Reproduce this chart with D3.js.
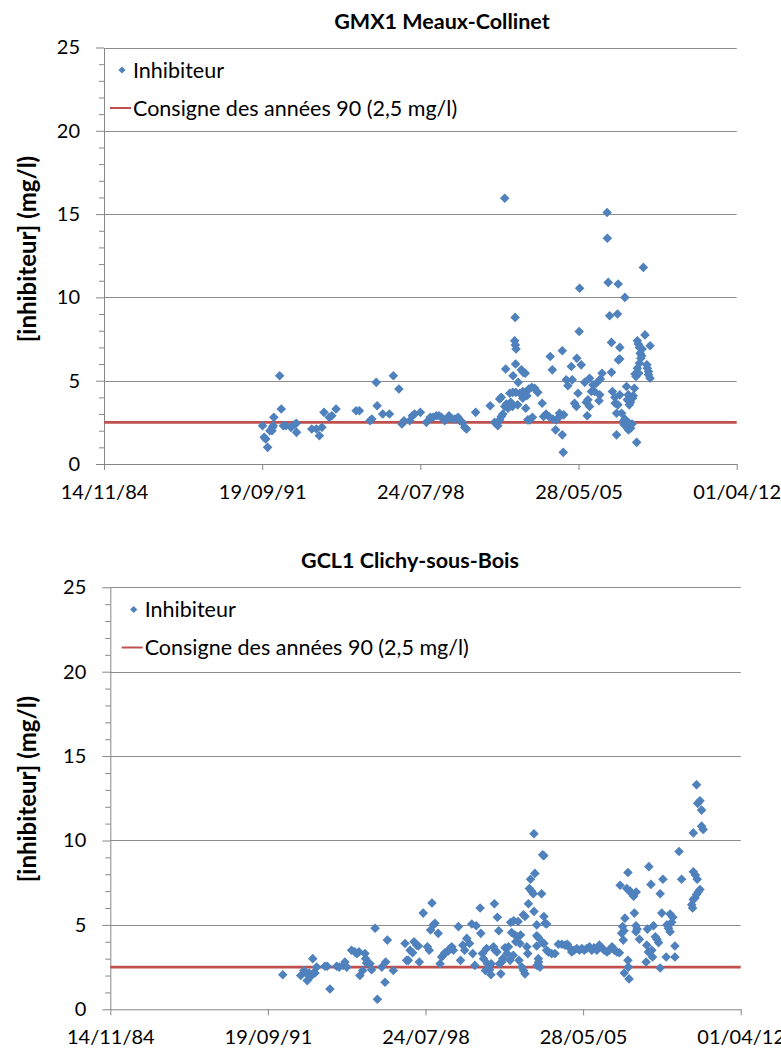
<!DOCTYPE html>
<html>
<head>
<meta charset="utf-8">
<script src="https://cdn.jsdelivr.net/npm/d3@7"></script>
<style>
  body { margin: 0; background: #fff; }
  text { font-family: Lato, "Open Sans", sans-serif; fill: #000; }
</style>
</head>
<body>
<svg id="chart" width="781" height="1048"></svg>
<script>
// ---- data -------------------------------------------------------------
const xTickLabels = ["14/11/84", "19/09/91", "24/07/98", "28/05/05", "01/04/12"];
const yTicks = [0, 5, 10, 15, 20, 25];
const consigne = 2.5;
const legendLabels = ["Inhibiteur", "Consigne des années 90 (2,5 mg/l)"];
const yLabel = "[inhibiteur] (mg/l)";

const gmxTitle = "GMX1 Meaux-Collinet";
const gmxYears = [
  1991.73,1991.80,1991.87,1991.95,1992.05,1992.14,1992.16,1992.22,1992.19,1992.47,
  1992.54,1992.63,1992.74,1992.96,1993.10,1993.19,1993.20,1993.86,1994.06,1994.19,
  1994.30,1994.39,1994.62,1994.73,1994.91,1995.78,1995.92,1996.38,1996.46,1996.65,
  1996.69,1996.93,1997.22,1997.39,1997.63,1997.76,1997.85,1998.10,1998.21,1998.31,
  1998.56,1998.82,1998.99,1999.11,1999.25,1999.37,1999.47,1999.61,1999.69,1999.80,
  1999.90,2000.05,2000.19,2000.27,2000.38,2000.48,2000.56,2000.95,2001.58,2001.77,
  2001.84,2001.91,2001.99,2002.06,2002.13,2001.99,2002.06,2002.21,2002.28,2002.35,
  2002.25,2002.21,2002.66,2002.64,2002.67,2002.70,2002.68,2002.57,2002.79,2002.43,
  2002.56,2002.69,2002.86,2002.99,2003.12,2003.25,2003.38,2003.51,2002.93,2003.01,
  2003.10,2002.99,2003.17,2003.12,2003.21,2003.29,2003.41,2002.77,2002.47,2003.83,
  2003.89,2004.00,2004.12,2004.18,2004.27,2004.29,2004.41,2004.51,2004.58,2004.70,
  2004.70,2004.74,2004.76,2004.87,2004.94,2005.09,2005.13,2005.23,2005.31,2005.33,
  2005.38,2005.45,2005.43,2005.52,2005.67,2005.74,2005.78,2005.88,2005.88,2005.96,
  2006.03,2006.17,2006.29,2006.35,2006.32,2006.42,2006.64,2006.65,2006.69,2006.75,
  2006.83,2006.87,2006.83,2006.99,2007.05,2007.05,2007.12,2007.09,2007.19,2007.13,
  2007.19,2007.19,2007.34,2007.41,2007.38,2007.48,2007.52,2007.56,2007.60,2007.65,
  2007.74,2007.60,2007.66,2007.82,2007.85,2007.92,2007.89,2007.95,2007.99,2008.04,
  2008.07,2008.10,2008.04,2007.95,2008.21,2008.28,2008.36,2008.38,2008.43,2008.43,
  2008.50,2008.50,2008.14,2008.16,2008.01,2006.98,2007.11,2007.27,2007.41,2007.56,
  2007.72,2007.77,2004.44,2005.81,2006.10,2002.42,2002.54,2003.64
];
const gmxValues = [
  2.3,1.6,1.5,1.0,2.0,2.0,2.2,2.8,2.3,5.3,
  3.3,2.3,2.3,2.2,2.35,2.45,1.9,2.1,2.1,1.7,
  2.2,3.1,2.8,2.9,3.3,3.2,3.2,2.6,2.7,4.9,
  3.5,3.0,3.0,5.3,4.5,2.4,2.6,2.6,2.9,3.0,
  3.1,2.5,2.8,2.8,2.9,2.9,2.8,2.6,2.7,2.9,
  2.7,2.7,2.8,2.6,2.5,2.2,2.1,3.1,3.5,2.5,
  2.45,2.3,2.65,2.85,3.0,3.9,4.0,3.45,3.6,3.35,
  5.7,15.95,8.8,7.4,7.15,6.9,6.0,5.3,4.9,4.25,
  4.3,4.3,4.25,4.35,4.3,4.5,4.6,4.55,5.65,5.5,
  5.45,3.95,4.1,3.35,2.65,2.65,2.8,3.55,3.7,3.65,
  2.85,3.0,2.85,6.45,5.65,2.7,2.05,2.75,3.05,6.8,
  1.75,0.7,2.95,5.05,4.7,5.85,5.05,3.65,3.45,6.35,
  4.25,10.55,7.95,5.95,4.9,3.7,2.9,5.15,3.45,4.35,
  4.75,4.85,3.8,5.1,4.15,5.45,15.1,13.55,10.9,8.9,
  7.3,4.35,5.5,3.65,1.75,3.05,10.8,9.0,7.0,6.25,
  6.3,4.15,2.55,10.0,2.35,4.65,3.85,4.15,3.55,3.7,
  3.95,2.45,2.15,4.55,5.4,1.3,5.25,7.4,7.2,7.0,
  6.65,6.35,6.05,5.75,11.8,7.75,5.95,5.75,5.55,5.35,
  5.15,7.1,6.5,6.9,5.45,4.0,3.55,3.05,2.7,2.05,
  2.4,4.1,2.65,3.85,4.35,3.45,3.45,4.3
];

const gclTitle = "GCL1 Clichy-sous-Bois";
const gclYears = [
  1992.36,1993.14,1993.28,1993.37,1993.42,1993.51,1993.57,1993.66,1993.69,1993.76,
  1993.83,1994.19,1994.29,1994.41,1994.70,1994.81,1994.99,1995.06,1995.14,1995.35,
  1995.49,1995.58,1995.67,1995.71,1995.83,1995.93,1995.96,1996.00,1996.15,1996.22,
  1996.37,1996.47,1996.66,1996.80,1996.83,1996.90,1997.16,1997.67,1997.74,1997.81,
  1997.89,1998.00,1998.06,1998.18,1998.25,1998.29,1998.46,1998.64,1998.72,1998.78,
  1998.84,1998.90,1998.97,1999.11,1999.19,1999.26,1999.40,1999.55,1999.70,1999.77,
  1999.99,2000.18,2000.35,2000.47,2000.57,2000.61,2000.76,2000.93,2000.96,2001.08,
  2001.21,2001.25,2001.34,2001.40,2001.41,2001.51,2001.58,2001.66,2001.55,2001.68,
  2001.74,2001.77,2001.83,2001.87,2001.91,2002.01,2002.16,2002.23,2002.26,2002.39,
  2002.30,2002.37,2002.44,2002.55,2002.69,2002.48,2002.58,2002.66,2002.81,2002.88,
  2002.74,2002.82,2002.88,2002.96,2003.03,2003.07,2003.17,2003.24,2003.12,2003.31,
  2003.27,2003.27,2003.39,2003.46,2003.39,2003.46,2003.39,2003.40,2003.47,2003.53,
  2003.60,2003.65,2003.70,2003.70,2003.75,2003.82,2003.65,2003.70,2003.82,2003.89,
  2004.04,2004.18,2004.33,2004.48,2004.62,2004.72,2004.81,2004.91,2005.01,2005.13,
  2005.24,2005.35,2005.45,2005.56,2005.68,2005.78,2005.88,2006.00,2006.11,2006.22,
  2006.32,2006.44,2006.54,2006.66,2006.76,2006.87,2006.98,2007.01,2007.08,2007.12,
  2007.18,2007.22,2007.15,2007.30,2007.35,2007.45,2007.52,2007.60,2007.71,2007.35,
  2007.37,2007.19,2007.40,2007.63,2007.70,2007.75,2007.70,2007.85,2008.20,2008.26,
  2008.35,2008.46,2008.17,2008.24,2008.14,2008.39,2008.42,2008.54,2008.61,2008.68,
  2008.75,2008.87,2008.75,2008.82,2009.01,2009.04,2009.11,2009.18,2009.18,2009.30,
  2009.25,2009.39,2009.39,2009.57,2009.68,2010.19,2010.12,2010.16,2010.19,2010.26,
  2010.33,2010.40,2010.48,2010.19,2010.28,2010.36,2010.33,2010.38,2010.48,2010.55,
  2010.55,2010.62,
  1999.33,1999.62,2000.08,2000.26,2000.70,2001.03,2001.16,2002.10,2002.62,2003.00
];
const gclValues = [
  2.05,2.0,2.3,2.15,1.7,2.15,1.95,3.0,2.15,2.15,
  2.5,2.55,2.55,1.2,2.55,2.5,2.6,2.8,2.5,3.5,
  3.4,3.3,3.4,2.0,2.3,3.3,3.0,2.75,2.7,2.35,
  4.8,0.6,2.5,1.6,2.8,4.1,2.3,3.9,2.9,2.9,
  3.5,3.35,4.0,3.8,3.75,2.8,5.7,3.7,3.5,4.7,
  6.3,5.0,5.1,4.5,2.7,3.1,3.35,3.45,3.7,3.5,
  4.9,3.8,4.2,3.9,5.05,3.3,4.95,6.0,4.5,3.0,
  3.6,2.7,2.35,2.05,2.7,3.7,3.5,3.4,6.25,5.45,
  4.65,2.7,2.1,2.8,3.0,3.65,3.7,2.9,5.15,5.25,
  4.55,3.2,4.4,4.3,4.4,4.0,5.2,3.9,5.6,5.5,
  2.5,2.3,2.1,3.7,6.25,7.15,7.0,6.85,7.7,8.05,
  10.4,5.8,5.0,3.0,4.35,4.25,3.75,2.6,2.8,2.5,
  6.85,9.15,9.1,5.5,5.1,5.05,3.95,3.9,3.5,3.4,
  3.3,3.3,3.85,3.85,3.8,3.85,3.65,3.4,3.5,3.6,
  3.5,3.6,3.5,3.6,3.7,3.5,3.65,3.5,3.8,3.65,
  3.5,3.4,3.5,3.7,3.5,3.4,3.35,7.35,4.5,4.9,
  4.65,5.4,4.1,7.15,8.1,7.0,6.85,6.7,6.95,2.9,
  2.5,2.15,1.8,5.7,4.95,4.75,4.6,4.15,4.75,8.45,
  7.4,4.95,3.8,3.4,2.8,3.5,3.1,4.3,4.15,3.95,
  6.85,7.7,2.45,5.7,3.1,5.0,4.8,4.6,5.65,5.45,
  5.15,3.75,3.1,9.35,7.7,10.45,6.2,6.0,6.5,6.6,
  6.8,6.95,7.1,8.15,7.95,7.7,13.3,12.2,12.35,11.8,
  10.85,10.65,
  3.2,3.6,2.9,3.5,2.6,3.3,2.3,3.3,2.9,3.3
];

// ---- helpers ----------------------------------------------------------
const parseTick = d3.timeParse("%d/%m/%y");
const tickDates = xTickLabels.map(parseTick);
const fmtTick = d3.timeFormat("%d/%m/%y");

function yearToDate(y) {
  const yr = Math.floor(y);
  const start = new Date(yr, 0, 1);
  const end = new Date(yr + 1, 0, 1);
  return new Date(start.getTime() + (y - yr) * (end - start));
}

const BLUE = "#4F81BD";
const RED = "#C0504D";
const AXIS = "#868686";
const diamond = (size) => d3.symbol(d3.symbolSquare, size)();

const svg = d3.select("#chart");

function drawPanel(cfg, title, years, values) {
  const g = svg.append("g");
  const x = d3.scaleTime()
    .domain([tickDates[0], tickDates[tickDates.length - 1]])
    .range([cfg.left, cfg.right]);
  const y = d3.scaleLinear().domain([0, 25]).range([cfg.bottom, cfg.top]);

  // horizontal gridlines
  g.append("g").selectAll("line")
    .data(yTicks.filter(v => v > 0))
    .join("line")
    .attr("x1", cfg.left).attr("x2", cfg.right)
    .attr("y1", d => Math.round(y(d)) + 0.5).attr("y2", d => Math.round(y(d)) + 0.5)
    .attr("stroke", "#8c8c8c").attr("stroke-width", 1);

  // minor y ticks
  const minor = d3.range(0, 26).filter(v => v % 5 !== 0);
  g.append("g")
    .attr("transform", `translate(${cfg.left},0)`)
    .call(d3.axisLeft(y).tickValues(minor).tickSize(5).tickSizeOuter(0).tickFormat(""))
    .call(a => a.select(".domain").remove())
    .call(a => a.selectAll("line").attr("stroke", AXIS));

  // major y axis
  g.append("g")
    .attr("transform", `translate(${cfg.left},0)`)
    .call(d3.axisLeft(y).tickValues(yTicks).tickSize(8).tickSizeOuter(0).tickPadding(16))
    .call(a => a.select(".domain").attr("stroke", AXIS))
    .call(a => a.selectAll("line").attr("stroke", AXIS))
    .call(a => a.selectAll("text").attr("font-size", 20).attr("font-family", "Lato"));

  // x axis
  g.append("g")
    .attr("transform", `translate(0,${cfg.bottom})`)
    .call(d3.axisBottom(x).tickValues(tickDates).tickFormat(fmtTick).tickSize(6).tickSizeOuter(0))
    .call(a => a.select(".domain").attr("stroke", AXIS))
    .call(a => a.selectAll("line").attr("stroke", AXIS))
    .call(a => a.selectAll("text").attr("font-size", 20).attr("font-family", "Lato")
      .attr("y", 28).attr("dy", "0.35em"));

  // guideline of the 90s
  g.append("line")
    .datum(consigne)
    .attr("x1", cfg.left).attr("x2", cfg.right)
    .attr("y1", d => y(d)).attr("y2", d => y(d))
    .attr("stroke", RED).attr("stroke-width", 2.75);

  // measurements
  const pts = years.map((yr, i) => ({ date: yearToDate(yr), v: values[i] }));
  g.append("g").selectAll("path")
    .data(pts)
    .join("path")
    .attr("d", diamond(46))
    .attr("transform", d => `translate(${x(d.date)},${y(d.v)}) rotate(45)`)
    .attr("fill", BLUE);

  // title
  g.append("text")
    .attr("x", cfg.titleX).attr("y", cfg.titleY)
    .attr("text-anchor", "middle")
    .attr("font-size", 21.5).attr("font-weight", "bold")
    .text(title);

  // y axis title
  g.append("text")
    .attr("transform", `translate(${cfg.ylabX},${cfg.ylabY}) rotate(-90)`)
    .attr("text-anchor", "middle").attr("dy", "0.35em")
    .attr("font-size", 24).attr("font-weight", "bold")
    .text(yLabel);

  // legend
  const lg = g.append("g");
  lg.append("path")
    .attr("d", diamond(26))
    .attr("transform", `translate(${cfg.legX + 12},${cfg.legY}) rotate(45)`)
    .attr("fill", BLUE);
  lg.append("line")
    .attr("x1", cfg.legX).attr("x2", cfg.legX + 21)
    .attr("y1", cfg.legY + 38).attr("y2", cfg.legY + 38)
    .attr("stroke", RED).attr("stroke-width", 2);
  lg.selectAll("text")
    .data(legendLabels)
    .join("text")
    .attr("x", cfg.legX + 23)
    .attr("y", (d, i) => cfg.legY + i * 38)
    .attr("dy", "0.35em")
    .attr("font-size", 21.5)
    .text(d => d);
}

drawPanel({ left: 104, right: 736.7, top: 47.5, bottom: 464,
            titleX: 442, titleY: 29, ylabX: 28, ylabY: 249, legX: 110, legY: 70 },
          gmxTitle, gmxYears, gmxValues);

drawPanel({ left: 110.3, right: 740.7, top: 587.3, bottom: 1009.3,
            titleX: 410, titleY: 568, ylabX: 28, ylabY: 789, legX: 121.7, legY: 609.5 },
          gclTitle, gclYears, gclValues);
</script>
</body>
</html>
